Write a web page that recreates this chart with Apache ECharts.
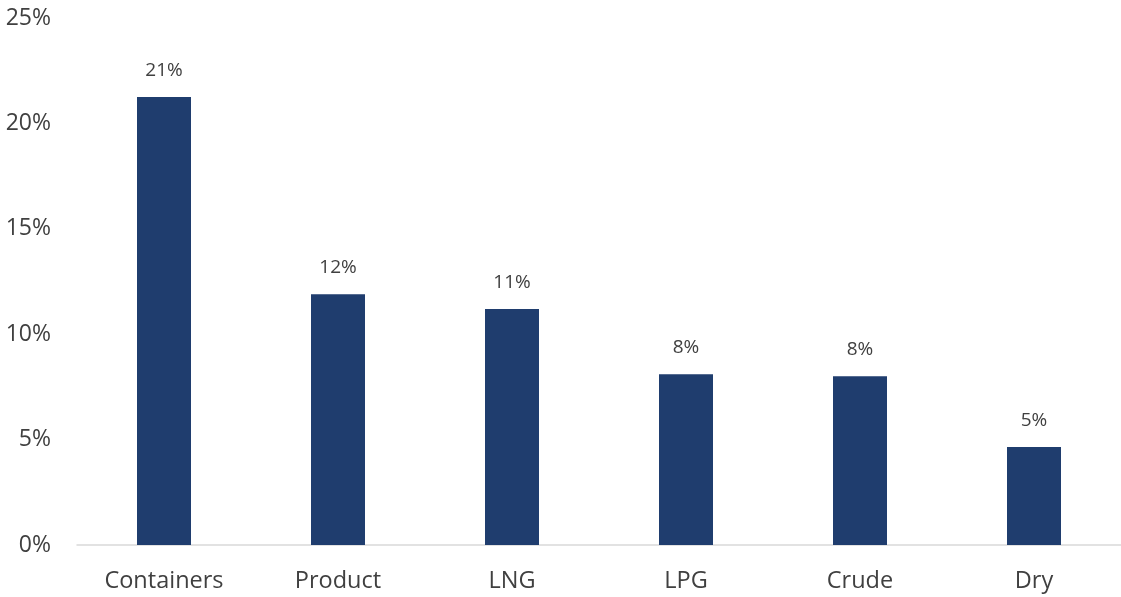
<!DOCTYPE html>
<html><head><meta charset="utf-8">
<script src="https://cdn.jsdelivr.net/npm/echarts@6/dist/echarts.min.js"></script>
<style>html,body{margin:0;padding:0;background:#fff}#c{width:1121px;height:597px}</style>
</head><body><div id="c"></div>
<script>
const categories = ['Containers','Product','LNG','LPG','Crude','Dry'];
const values = [21.25, 11.9, 11.2, 8.1, 8.0, 4.65];
const yTicks = {min:0, max:25, interval:5};

const chart = echarts.init(document.getElementById('c'));
chart.setOption({
  animation:false,
  grid:{left:77,right:0,top:18,bottom:52,containLabel:false},
  xAxis:{type:'category',data:categories,
    axisLine:{lineStyle:{color:'#d9d9d9',width:1.5}},axisTick:{show:false},
    axisLabel:{color:'#404040',fontFamily:'Open Sans',fontSize:23.5,margin:24}},
  yAxis:{type:'value',min:yTicks.min,max:yTicks.max,interval:yTicks.interval,
    splitLine:{show:false},axisLine:{show:false},axisTick:{show:false},
    axisLabel:{color:'#404040',fontFamily:'Open Sans',fontSize:23,margin:26,formatter:v=>v+'%'}},
  series:[{type:'bar',data:values,barWidth:54,
    itemStyle:{color:'#1f3d6e'},
    label:{show:true,position:'top',distance:17,color:'#404040',fontFamily:'Open Sans',fontSize:19,
      formatter:p=>Math.round(p.value)+'%'}}]
});
</script></body></html>
